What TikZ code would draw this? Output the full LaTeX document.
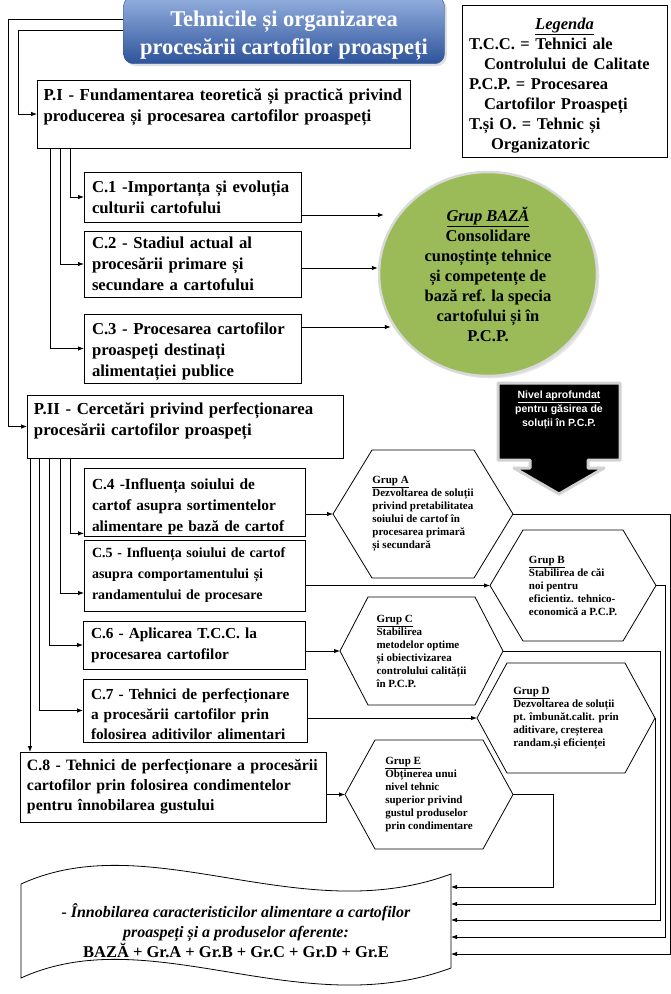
\documentclass[tikz,border=0pt]{standalone}
\usepackage{fontspec}
\setmainfont{Liberation Serif}
\newfontfamily\arialfont{Liberation Sans}
\usetikzlibrary{arrows.meta,shapes.geometric,shadows}

\definecolor{bazagreen}{HTML}{9BBB59}
\definecolor{titletop}{HTML}{95B0E0}
\definecolor{titlebot}{HTML}{2E539A}

\tikzset{
  arr/.style={-{Latex[length=6pt,width=4.5pt]}, line width=0.8pt},
  cbox/.style={draw, line width=0.8pt, align=left, inner xsep=8pt, inner ysep=2pt, outer sep=0pt},
  hexbox/.style={align=left, inner sep=0pt, outer sep=0pt, font=\boxfont{11}{13}},
  hexline/.style={draw, line width=0.8pt},
}
\newcommand\boxfont[2]{\bfseries\fontsize{#1}{#2}\selectfont}
\newcommand\hexframe[2]{%
  \draw[hexline] (#1.west) -- ([xshift=#2]#1.north west) -- ([xshift=-#2]#1.north east)
    -- (#1.east) -- ([xshift=-#2]#1.south east) -- ([xshift=#2]#1.south west) -- cycle;}

\begin{document}
\begin{tikzpicture}[x=1pt, y=-1pt]
\useasboundingbox (0,0) rectangle (671,994);

% titlu si legenda
\node[draw=titlebot, rounded corners=10pt, top color=titletop, bottom color=titlebot,
  minimum width=321pt, minimum height=66pt, text=white, align=center,
  font=\boxfont{22.5}{28}, drop shadow={opacity=0.25}] (tit) at (284,30)
  {\rule{0pt}{27pt}Tehnicile și organizarea\\procesării cartofilor proaspeți};

\node[draw, line width=0.8pt, minimum width=205pt, minimum height=152pt, text width=191pt,
  inner xsep=7pt, align=left, font=\boxfont{16.5}{20}] (leg) at (564.5,81)
  {\makebox[191pt]{\rule{0pt}{20.5pt}\underline{\textit{Legenda}}}\\
   T.C.C. = Tehnici ale\\ \hspace*{15pt}Controlului de Calitate\\
   P.C.P. = Procesarea\\ \hspace*{15pt}Cartofilor Proaspeți\\
   T.și O. = Tehnic și\\ \hspace*{22pt}Organizatoric};

% partea I
\node[cbox, text width=360pt, inner xsep=6.5pt, minimum height=68pt, font=\boxfont{16.8}{21}] (p1) at (223.5,114)
  {P.I - Fundamentarea teoretică și practică privind\\ producerea și procesarea cartofilor proaspeți\rule[-18pt]{0pt}{18pt}};
\node[cbox, text width=201pt, minimum height=50pt, font=\boxfont{16.7}{21}] (c1) at (192.5,197)
  {C.1 -Importanța și evoluția\\ culturii cartofului};
\node[cbox, text width=201pt, minimum height=66pt, font=\boxfont{16.7}{21}] (c2) at (192.5,264)
  {C.2 - Stadiul actual al\\ procesării primare și\\ secundare a cartofului};
\node[cbox, text width=201pt, minimum height=69pt, font=\boxfont{16.7}{21}] (c3) at (192.5,348.5)
  {\rule{0pt}{17.4pt}C.3 - Procesarea cartofilor\\ proaspeți destinați\\ alimentației publice};

\node[ellipse, draw=white!85!black, line width=2.5pt, fill=bazagreen, minimum width=218pt,
  minimum height=204pt, inner sep=0pt, align=center, font=\boxfont{16.5}{20},
  drop shadow={opacity=0.2}] (baza) at (488,274)
  {\underline{\textit{Grup BAZĂ}}\\ Consolidare\\ cunoștințe tehnice\\ și competențe de\\
   bază ref. la specia\\ cartofului și în\\ P.C.P.};

% partea II
\node[cbox, text width=302pt, inner xsep=7pt, minimum height=63pt, font=\boxfont{16.8}{21}] (p2) at (185,426.5)
  {P.II - Cercetări privind perfecționarea\\ procesării cartofilor proaspeți\rule[-14pt]{0pt}{14pt}};
\node[cbox, text width=205pt, minimum height=65pt, font=\boxfont{15.4}{21}] (c4) at (194.5,502.5)
  {\rule{0pt}{18.5pt}C.4 -Influența soiului de\\ cartof asupra sortimentelor\\ alimentare pe bază de cartof};
\node[cbox, text width=205pt, minimum height=71pt, font=\boxfont{14}{21}] (c5) at (194.5,575.5)
  {C.5 - Influența soiului de cartof\\ asupra comportamentului și\\ randamentului de procesare};
\node[cbox, text width=206pt, minimum height=48pt, font=\boxfont{15.3}{21}] (c6) at (194,645)
  {C.6 - Aplicarea T.C.C. la\\ procesarea cartofilor};
\node[cbox, text width=208pt, minimum height=63pt, font=\boxfont{15.3}{20}] (c7) at (195,710.5)
  {\rule{0pt}{18.4pt}C.7 - Tehnici de perfecționare\\ a procesării cartofilor prin\\ folosirea aditivilor alimentari};
\node[cbox, text width=292pt, inner xsep=7pt, minimum height=70pt, font=\boxfont{15.8}{20}] (c8) at (173,787)
  {C.8 - Tehnici de perfecționare a procesării\\ cartofilor prin folosirea condimentelor\\ pentru înnobilarea gustului};

% sageata neagra
\path[fill=black, draw=gray!35, line width=3pt, line join=round]
  (498,383) -- (620,383) -- (620,460) -- (588,460) -- (588,468) -- (604,468) -- (559,494)
  -- (514,468) -- (530,468) -- (530,460) -- (498,460) -- cycle;
\node[text=white, align=center, font=\arialfont\bfseries\fontsize{10.5}{14}\selectfont] (niv) at (559,410)
  {\underline{Nivel aprofundat}\\ pentru găsirea de\\ soluții în P.C.P.};

% grupe
\node[hexbox, minimum width=180pt, minimum height=128pt] (hA) at (423,514)
  {\underline{Grup A}\\ Dezvoltarea de soluții\\ privind pretabilitatea\\ soiului de cartof în\\ procesarea primară\\ și secundară};
\hexframe{hA}{39pt}
\node[hexbox, minimum width=166pt, minimum height=111pt] (hB) at (573,585.5)
  {\underline{Grup B}\\ Stabilirea de căi\\ noi pentru\\ eficientiz. tehnico-\\ economică a P.C.P.};
\hexframe{hB}{33pt}
\node[hexbox, minimum width=163pt, minimum height=108pt] (hC) at (421.5,651)
  {\underline{Grup C}\\ Stabilirea\\ metodelor optime\\ și obiectivizarea\\ controlului calității\\ în P.C.P.};
\hexframe{hC}{28pt}
\node[hexbox, minimum width=178pt, minimum height=110pt] (hD) at (566,718)
  {\underline{Grup D}\\ Dezvoltarea de soluții\\ pt. îmbunăt.calit. prin\\ aditivare, creșterea\\ randam.și eficienței};
\hexframe{hD}{30pt}
\node[hexbox, minimum width=168pt, minimum height=109pt] (hE) at (429,794.5)
  {\underline{Grup E}\\ Obținerea unui\\ nivel tehnic\\ superior privind\\ gustul produselor\\ prin condimentare};
\hexframe{hE}{30pt}

% rezultat
\node[minimum width=430pt, minimum height=115pt, inner sep=0pt, outer sep=0pt, align=center,
  font=\boxfont{16}{20}] (rez) at (236,931)
  {\textit{- Înnobilarea caracteristicilor alimentare a cartofilor}\\
   \textit{proaspeți și a produselor aferente:}\\
   {\fontsize{16.5}{20}\selectfont BAZĂ + Gr.A + Gr.B + Gr.C + Gr.D + Gr.E}};
\draw[line width=0.8pt] (21,884) .. controls (150,825) and (300,930) .. (451,874) -- (451,968)
  .. controls (300,1024) and (150,919) .. (21,978) -- cycle;

% legaturi
\draw[arr] ([yshift=11pt]tit.west) -| ([xshift=-19pt]p2.west) -- (p2.west);
\draw[arr] (tit.west) -| ([xshift=-19pt]p1.west) -- (p1.west);

\draw[arr] ([xshift=33pt]p1.south west) |- (c1.west);
\draw[arr] ([xshift=23pt]p1.south west) |- (c2.west);
\draw[arr] ([xshift=13pt]p1.south west) |- (c3.west);

\draw[arr] ([yshift=-18pt]c1.east) -- ([yshift=-18pt,xshift=6pt]c1.east -| baza.west);
\draw[arr] ([yshift=-4pt]c2.east) -- ([yshift=-4pt]c2.east -| baza.west);
\draw[arr] ([yshift=21.5pt]c3.east) -- ([yshift=21.5pt,xshift=13pt]c3.east -| baza.west);

\draw[arr] ([xshift=43pt]p2.south west) |- ([yshift=3pt]c4.south west);
\draw[arr] ([xshift=33pt]p2.south west) |- ([yshift=18pt]c5.south west);
\draw[arr] ([xshift=22pt]p2.south west) |- (c6.west);
\draw[arr] ([xshift=12pt]p2.south west) |- (c7.west);
\draw[arr] ([xshift=3pt]p2.south west) -- ([xshift=3pt]p2.south west |- c8.north);

\draw[arr] (c4.east |- hA.west) -- (hA.west);
\draw[arr] (c5.east |- hB.west) -- (hB.west);
\draw[arr] (c6.east |- hC.west) -- (hC.west);
\draw[arr] (c7.east |- hD.west) -- (hD.west);
\draw[arr] (c8.east |- hE.west) -- (hE.west);

\draw[arr] (hE.east) -- ++(40,0) |- (rez.east |- 0,887);
\draw[arr] (hD.east) |- (rez.east |- 0,904);
\draw[arr] (hC.east) -- ++(157,0) |- (rez.east |- 0,920);
\draw[arr] (hB.east) -- ++(9,0) |- (rez.east |- 0,937);
\draw[arr] (hA.east) -- ++(157,0) |- (rez.east |- 0,954);

\end{tikzpicture}
\end{document}
